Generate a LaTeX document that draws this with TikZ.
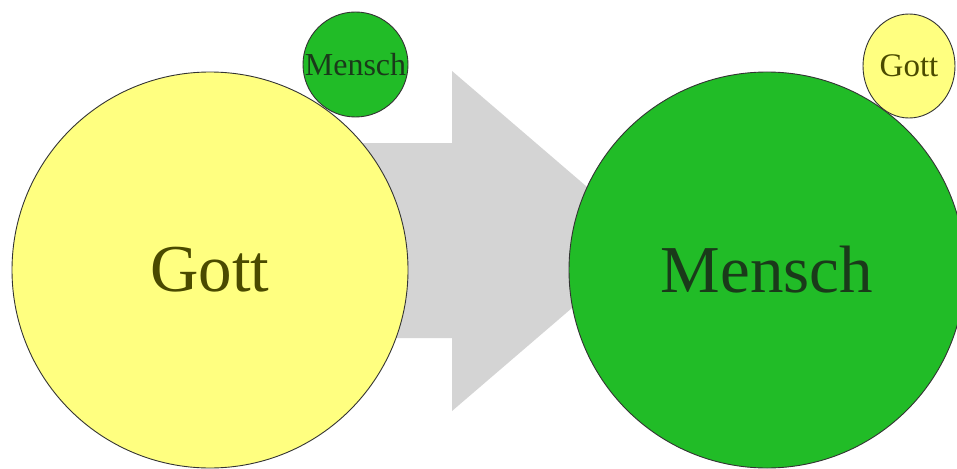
\documentclass[tikz,border=0pt]{standalone}
\usepackage{fontspec}
\setmainfont{Liberation Serif}
\usetikzlibrary{shapes.geometric}
\definecolor{yel}{HTML}{FFFF80}
\definecolor{grn}{HTML}{21BC27}
\definecolor{arr}{HTML}{D4D4D4}
\definecolor{edge}{HTML}{333333}
\definecolor{gotttxt}{HTML}{4A4A00}
\definecolor{menschtxt}{HTML}{1A3A1A}
\tikzset{
  ball/.style={circle, draw=edge, line width=0.9pt, inner sep=0pt},
  bigtxt/.style={font=\fontsize{67}{70}\selectfont},
  smalltxt/.style={font=\fontsize{32}{34}\selectfont},
}
\begin{document}
\begin{tikzpicture}[x=1pt,y=-1pt]
\useasboundingbox (0,0) rectangle (957,468);
\fill[white] (0,0) rectangle (957,468);
% arrow
\fill[arr] (300,143) -- (452,143) -- (452,71) -- (650,241) -- (452,411) -- (452,338) -- (300,338) -- cycle;
% left group
\node[ball, fill=yel, minimum size=396pt, text=gotttxt, bigtxt] (gott) at (210,270) {Gott};
\node[ball, fill=grn, minimum size=105pt, text=menschtxt, smalltxt] (mensch1) at (355.5,64.5) {Mensch};
% right group
\node[ball, fill=grn, minimum size=396pt, text=menschtxt, bigtxt] (mensch) at (767,270) {Mensch};
\node[ellipse, draw=edge, line width=0.9pt, inner sep=0pt, fill=yel, minimum width=92pt, minimum height=104pt, text=gotttxt, font=\fontsize{33}{36}\selectfont] (gott1) at (909,66) {Gott};
\end{tikzpicture}
\end{document}
